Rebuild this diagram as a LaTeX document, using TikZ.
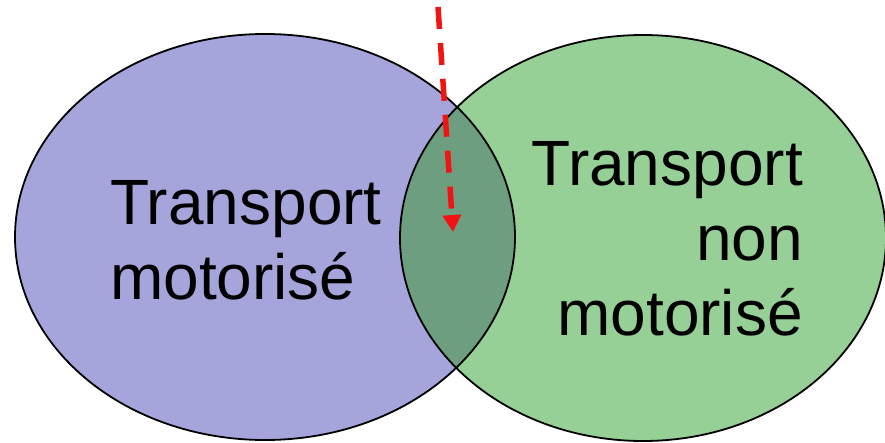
\documentclass[tikz,border=0pt]{standalone}
\usepackage{fontspec}
\setmainfont{Liberation Sans}
\usetikzlibrary{arrows.meta}
\definecolor{setblue}{RGB}{165,165,220}
\definecolor{setgreen}{RGB}{150,208,150}
\definecolor{setboth}{RGB}{110,158,128}
\definecolor{arrowred}{RGB}{240,20,20}
\tikzset{
  setline/.style={draw=black, line width=1.8pt},
  biglabel/.style={font=\fontsize{64}{75}\selectfont, inner sep=0pt, text=black},
  pointer/.style={draw=arrowred, line width=5.5pt, dash pattern=on 22pt off 14pt,
    -{Triangle[length=17pt,width=18pt]}}
}
\begin{document}
\begin{tikzpicture}[x=1pt,y=-1pt]
\useasboundingbox (0,0) rectangle (885,442);
% fills
\fill[setblue] (265,237) ellipse [x radius=250, y radius=203];
\fill[setgreen] (643,238) ellipse [x radius=243, y radius=203];
\begin{scope}
  \clip (265,237) ellipse [x radius=250, y radius=203];
  \fill[setboth] (643,238) ellipse [x radius=243, y radius=203];
\end{scope}
% outlines
\draw[setline] (265,237) ellipse [x radius=250, y radius=203];
\draw[setline] (643,238) ellipse [x radius=243, y radius=203];
% labels
\node[biglabel, align=left, anchor=west] (motor) at (110,240) {Transport\\motorisé};
\node[biglabel, align=right, anchor=east] (nonmotor) at (803,239) {Transport\\non\\motorisé};
% arrow
\coordinate (astart) at (438,7);
\coordinate (aend) at (453,232);
\draw[pointer] (astart) -- (aend);
\end{tikzpicture}
\end{document}
